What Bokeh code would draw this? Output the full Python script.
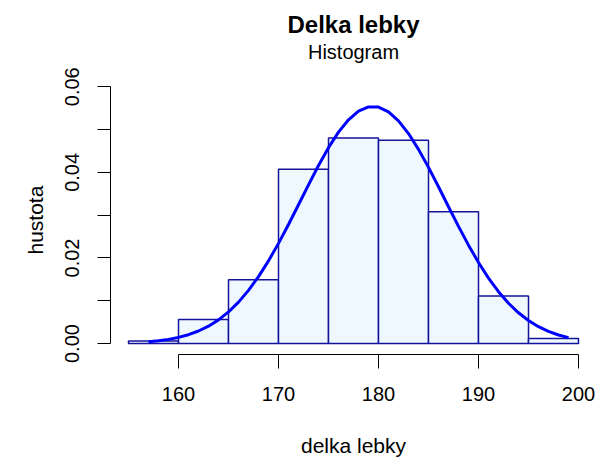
from bokeh.plotting import figure
from bokeh.models import Range1d, FixedTicker, PrintfTickFormatter, Label, Title, ColumnDataSource
from bokeh.embed import file_html
from bokeh.resources import INLINE

# ---- data ----
bin_left = [155, 160, 165, 170, 175, 180, 185, 190, 195]
bin_right = [160, 165, 170, 175, 180, 185, 190, 195, 200]
density = [0.0006, 0.0056, 0.0149, 0.0407, 0.0480, 0.0475, 0.0308, 0.0111, 0.0012]

curve_x = [157, 158, 159, 160, 161, 162, 163, 164, 165, 166, 167, 168, 169, 170,
           171, 172, 173, 174, 175, 176, 177, 178, 179, 180, 181, 182, 183, 184,
           185, 186, 187, 188, 189, 190, 191, 192, 193, 194, 195, 196, 197, 198, 199]
curve_y = [0.00043, 0.00066, 0.00098, 0.00144, 0.00208, 0.00294, 0.00407, 0.00554,
           0.00739, 0.00968, 0.01243, 0.01565, 0.01932, 0.02341, 0.02782, 0.03244,
           0.03708, 0.04160, 0.04577, 0.04939, 0.05228, 0.05429, 0.05529, 0.05524,
           0.05413, 0.05203, 0.04906, 0.04537, 0.04116, 0.03663, 0.03197, 0.02737,
           0.02299, 0.01894, 0.01530, 0.01213, 0.00943, 0.00719, 0.00538, 0.00395,
           0.00284, 0.00201, 0.00139]

x_ticks = [160, 170, 180, 190, 200]
y_ticks = [0.0, 0.02, 0.04, 0.06]
y_minor = [0.01, 0.03, 0.05]

title_text = "Delka lebky"
subtitle_text = "Histogram"
x_label = "delka lebky"
y_label = "hustota"

FONT = "Liberation Sans"

# frame reaches the top of the canvas so the titles can sit inside it;
# the y axis is bounded to 0..0.06 like R's axis
p = figure(width=600, height=459,
           x_range=Range1d(153.2, 201.8), y_range=Range1d(-0.00255, 0.080145),
           output_backend="svg", toolbar_location=None,
           min_border_left=110, min_border_right=4,
           min_border_top=0, min_border_bottom=103)
p.title_location = None
p.outline_line_color = None
p.xgrid.grid_line_color = None
p.ygrid.grid_line_color = None
p.background_fill_color = "white"
p.border_fill_color = "white"

src = ColumnDataSource(dict(left=bin_left, right=bin_right, top=density,
                            bottom=[0] * len(density)))
p.quad(left="left", right="right", top="top", bottom="bottom", source=src,
       fill_color="#F0F8FF", line_color="#14149a", line_width=1.5)

p.line(curve_x, curve_y, line_color="#0000FF", line_width=3)

# x axis
xa = p.xaxis[0]
xa.ticker = FixedTicker(ticks=x_ticks, minor_ticks=[])
xa.bounds = (x_ticks[0], x_ticks[-1])
xa.axis_line_color = "black"
xa.major_tick_line_color = "black"
xa.major_tick_out = 14
xa.major_tick_in = 0
xa.minor_tick_line_color = None
xa.major_label_text_font = FONT
xa.major_label_text_font_size = "20px"
xa.major_label_text_color = "black"
xa.major_label_standoff = 18
xa.axis_label = x_label
xa.axis_label_text_font = FONT
xa.axis_label_text_font_size = "21px"
xa.axis_label_text_font_style = "normal"
xa.axis_label_text_color = "black"
xa.axis_label_standoff = 30

# y axis
ya = p.yaxis[0]
ya.ticker = FixedTicker(ticks=y_ticks, minor_ticks=y_minor)
ya.formatter = PrintfTickFormatter(format="%.2f")
ya.bounds = (y_ticks[0], y_ticks[-1])
ya.axis_line_color = "black"
ya.major_tick_line_color = "black"
ya.major_tick_out = 13
ya.major_tick_in = 0
ya.minor_tick_line_color = "black"
ya.minor_tick_out = 13
ya.minor_tick_in = 0
ya.major_label_orientation = "vertical"
ya.major_label_text_font = FONT
ya.major_label_text_font_size = "20px"
ya.major_label_text_color = "black"
ya.major_label_standoff = 18

# y-axis title, placed beside the 0..0.06 data region as in R
p.add_layout(Title(text=y_label, align="left", offset=100, standoff=28,
                   vertical_align="top",
                   text_font=FONT, text_font_size="21px",
                   text_font_style="normal", text_color="black"), "left")

# titles
p.add_layout(Label(x=177.5, y=0.0745, text=title_text, text_align="center",
                   text_baseline="alphabetic", text_font=FONT,
                   text_font_size="24px", text_font_style="bold",
                   text_color="black"))
p.add_layout(Label(x=177.5, y=0.0682, text=subtitle_text, text_align="center",
                   text_baseline="alphabetic", text_font=FONT,
                   text_font_size="20px", text_color="black"))

open("out.html", "w").write(file_html(p, INLINE))
